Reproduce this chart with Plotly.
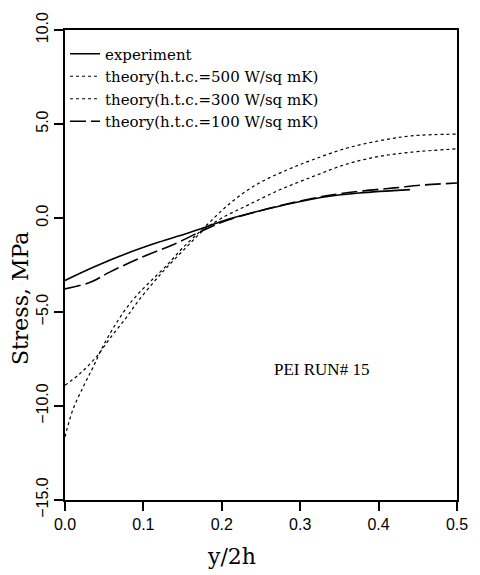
import plotly.graph_objects as go

# Experiment (solid)
exp_x = [0.0, 0.036, 0.077, 0.119, 0.153, 0.178, 0.207, 0.249, 0.291, 0.333, 0.375, 0.44]
exp_y = [-3.32, -2.62, -1.91, -1.29, -0.85, -0.50, -0.08, 0.39, 0.80, 1.13, 1.33, 1.51]

# theory h.t.c.=500 (dotted, steepest)
t500_x = [0.0, 0.01, 0.023, 0.036, 0.048, 0.065, 0.086, 0.107, 0.128, 0.15, 0.178, 0.211, 0.245, 0.283, 0.316, 0.358, 0.40, 0.442, 0.50]
t500_y = [-11.64, -10.2, -9.0, -7.92, -6.86, -5.62, -4.38, -3.45, -2.6, -1.6, -0.49, 0.8, 1.8, 2.55, 3.1, 3.7, 4.1, 4.37, 4.46]

# theory h.t.c.=300 (dotted)
t300_x = [0.0, 0.019, 0.04, 0.057, 0.077, 0.094, 0.115, 0.13, 0.155, 0.178, 0.20, 0.232, 0.274, 0.316, 0.358, 0.40, 0.442, 0.50]
t300_y = [-8.9, -8.28, -7.39, -6.42, -5.36, -4.38, -3.32, -2.62, -1.55, -0.6, 0.0, 0.66, 1.5, 2.2, 2.85, 3.27, 3.5, 3.68]

# theory h.t.c.=100 (long dash)
t100_x = [0.0, 0.033, 0.057, 0.098, 0.14, 0.178, 0.207, 0.249, 0.291, 0.333, 0.375, 0.42, 0.459, 0.50]
t100_y = [-3.77, -3.41, -2.88, -2.09, -1.38, -0.62, -0.12, 0.39, 0.82, 1.18, 1.42, 1.6, 1.76, 1.86]

names = ["experiment",
         "theory(h.t.c.=500 W/sq mK)",
         "theory(h.t.c.=300 W/sq mK)",
         "theory(h.t.c.=100 W/sq mK)"]

fig = go.Figure()
fig.add_trace(go.Scatter(x=exp_x, y=exp_y, mode="lines", name=names[0],
                         line=dict(color="black", width=1.6, shape="spline")))
fig.add_trace(go.Scatter(x=t500_x, y=t500_y, mode="lines", name=names[1],
                         line=dict(color="black", width=1.2, dash="3px,3px", shape="spline")))
fig.add_trace(go.Scatter(x=t300_x, y=t300_y, mode="lines", name=names[2],
                         line=dict(color="black", width=1.2, dash="3px,3px", shape="spline")))
fig.add_trace(go.Scatter(x=t100_x, y=t100_y, mode="lines", name=names[3],
                         line=dict(color="black", width=1.6, dash="16px,5px", shape="spline")))

fig.add_annotation(x=0.327, y=-8.05, xref="x", yref="y", text="PEI RUN# 15",
                   showarrow=False, font=dict(family="Liberation Serif", size=17, color="black"))

# axis titles placed as in the reference (not centred on the axes)
pw = 480 - 65 - 17
ph = 575 - 29 - 75
fig.add_annotation(x=(234 - 65) / pw, y=(500 - 557) / ph, xref="paper", yref="paper",
                   xanchor="center", yanchor="middle", text="y/2h", showarrow=False,
                   font=dict(family="DejaVu Serif", size=22, color="black"))
fig.add_annotation(x=(20 - 65) / pw, y=(500 - 298) / ph, xref="paper", yref="paper",
                   xanchor="center", yanchor="middle", text="Stress, MPa", showarrow=False,
                   textangle=-90, font=dict(family="DejaVu Serif", size=22, color="black"))

fig.update_layout(
    width=480, height=575,
    margin=dict(l=65, r=17, t=29, b=75),
    paper_bgcolor="white", plot_bgcolor="white",
    showlegend=True,
    legend=dict(x=0.0, y=0.984, xanchor="left", yanchor="top",
                bgcolor="rgba(0,0,0,0)", borderwidth=0,
                font=dict(family="DejaVu Serif", size=15, color="black"),
                tracegroupgap=0, itemwidth=30),
    font=dict(family="Liberation Sans", color="black"),
)

fig.update_xaxes(range=[0, 0.5], tickvals=[0, 0.1, 0.2, 0.3, 0.4, 0.5],
                 ticktext=["0.0", "0.1", "0.2", "0.3", "0.4", "0.5"],
                 ticks="outside", ticklen=9, tickwidth=1.5, tickcolor="black",
                 showline=True, linewidth=2, linecolor="black", mirror=True,
                 showgrid=False, zeroline=False,
                 tickfont=dict(family="Liberation Sans", size=16))
fig.update_yaxes(range=[-15, 10], tickvals=[-15, -10, -5, 0, 5, 10],
                 ticktext=["\u221215.0", "\u221210.0", "\u22125.0", "0.0", "5.0", "10.0"],
                 tickangle=-90,
                 ticks="outside", ticklen=9, tickwidth=1.5, tickcolor="black",
                 showline=True, linewidth=2, linecolor="black", mirror=True,
                 showgrid=False, zeroline=False,
                 tickfont=dict(family="Liberation Sans", size=16))

fig.write_html("out.html")
